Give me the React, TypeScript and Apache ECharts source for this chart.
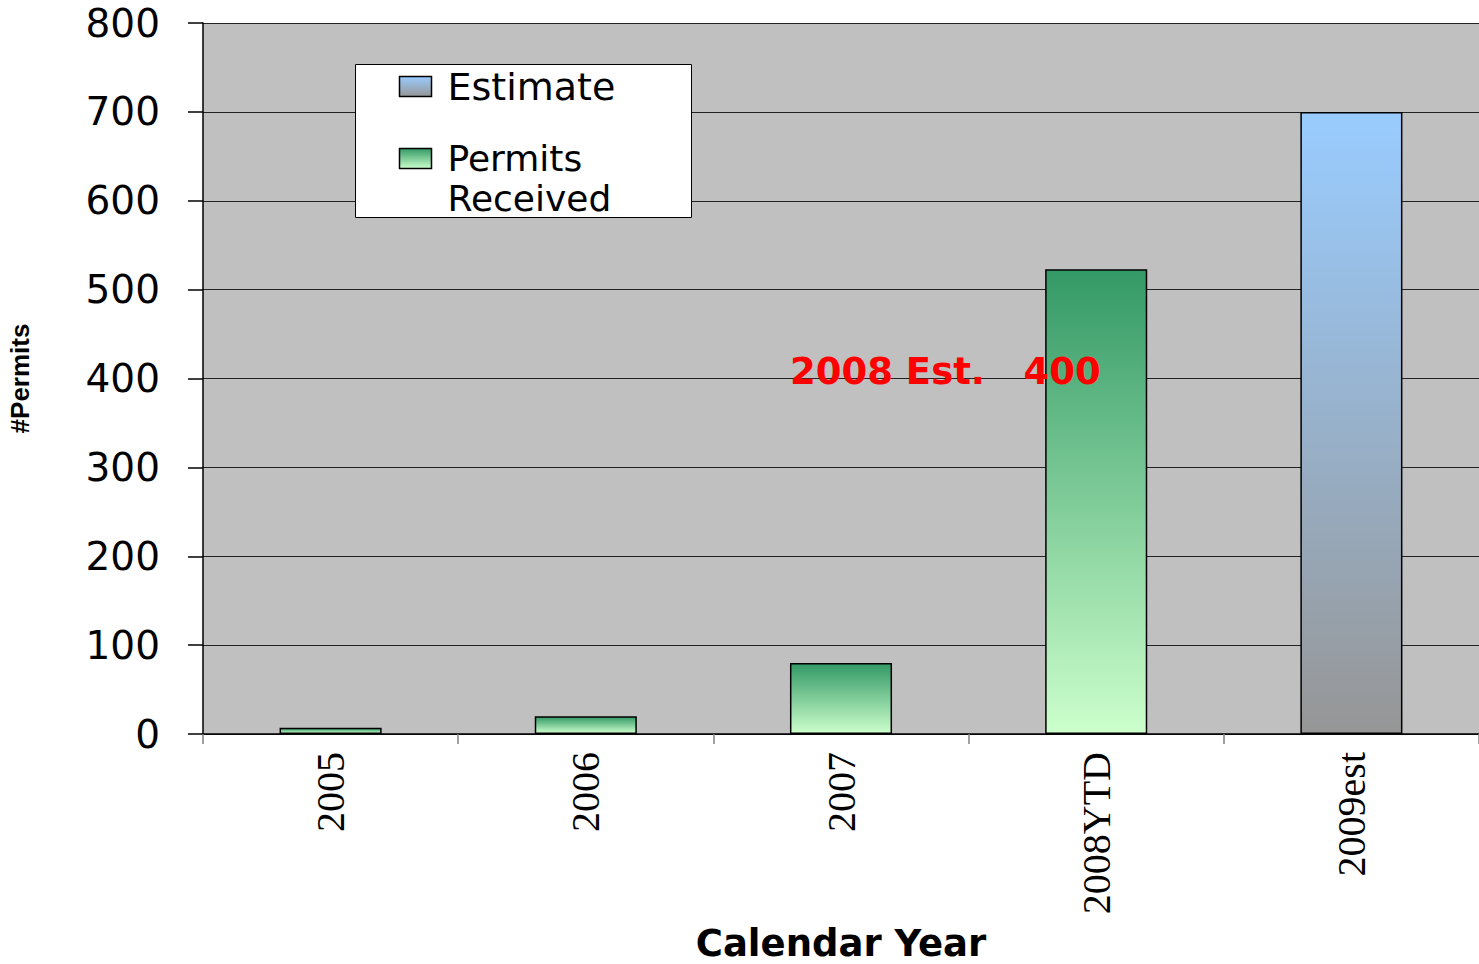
import React, { useEffect, useRef } from "react";
import * as echarts from "echarts";

const categories = ["2005", "2006", "2007", "2008 YTD", "2009est"];
const permitsReceived: (number | string)[] = [7, 20, 80, 523, "-"];
const estimate: (number | string)[] = ["-", "-", "-", "-", 700];
const yTicks = { min: 0, max: 800, interval: 100 };
const annotation = "2008 Est.   400";

export default function App() {
  const ref = useRef<HTMLDivElement>(null);
  useEffect(() => {
    if (!ref.current) return;
    const chart = echarts.init(ref.current, undefined, { renderer: "svg" });
    const green = new echarts.graphic.LinearGradient(0, 0, 0, 1, [
      { offset: 0, color: "#339966" },
      { offset: 1, color: "#CCFFCC" },
    ]);
    const blue = new echarts.graphic.LinearGradient(0, 0, 0, 1, [
      { offset: 0, color: "#99CCFF" },
      { offset: 1, color: "#969696" },
    ]);
    chart.setOption({
      animation: false,
      backgroundColor: "#ffffff",
      grid: {
        left: 203,
        top: 23,
        right: 0,
        bottom: 964 - 734,
        containLabel: false,
        outerBoundsMode: "none",
        show: true,
        backgroundColor: "#c0c0c0",
        borderWidth: 0,
      },
      xAxis: {
        type: "category",
        data: categories,
        axisLine: { show: true, lineStyle: { color: "#000", width: 1.5 } },
        axisTick: { show: true, alignWithLabel: false, length: 10, lineStyle: { color: "#808080", width: 1.5 } },
        axisLabel: {
          rotate: 90,
          margin: 18,
          color: "#000",
          fontFamily: "Liberation Serif",
          fontSize: 40,
          formatter: (v: string) => v.replace(" ", ""),
        },
        name: "Calendar Year",
        nameLocation: "middle",
        nameGap: 190,
        nameTextStyle: { fontFamily: "DejaVu Sans", fontWeight: "bold", fontSize: 37, lineHeight: 38, color: "#000" },
      },
      yAxis: {
        type: "value",
        min: yTicks.min,
        max: yTicks.max,
        interval: yTicks.interval,
        axisLine: { show: true, lineStyle: { color: "#000", width: 1.5 } },
        axisTick: { show: true, length: 15, lineStyle: { color: "#000", width: 1.5 } },
        splitLine: { show: true, lineStyle: { color: "#222", width: 1 } },
        axisLabel: { margin: 43, color: "#000", fontFamily: "DejaVu Sans", fontSize: 39 },
        name: "#Permits",
        nameLocation: "middle",
        nameGap: 170,
        nameRotate: 90,
        nameTextStyle: { fontFamily: "Liberation Sans", fontWeight: "bold", fontSize: 26, color: "#000" },
      },
      series: [
        {
          name: "Estimate",
          type: "bar",
          stack: "all",
          barWidth: "40%",
          data: estimate,
          itemStyle: { color: blue, borderColor: "#000", borderWidth: 1.5 },
        },
        {
          name: "Permits Received",
          type: "bar",
          stack: "all",
          barWidth: "40%",
          data: permitsReceived,
          itemStyle: { color: green, borderColor: "#000", borderWidth: 1.5 },
        },
      ],
      graphic: [
        {
          type: "group",
          left: 355,
          top: 64,
          z: 100,
          children: [
            { type: "rect", z: 100, shape: { x: 0, y: 0, width: 336, height: 153 }, style: { fill: "#fff", stroke: "#000", lineWidth: 1 } },
            {
              type: "rect",
              z: 101,
              shape: { x: 44, y: 12, width: 32, height: 20 },
              style: {
                fill: new echarts.graphic.LinearGradient(0, 0, 0, 1, [
                  { offset: 0, color: "#99CCFF" },
                  { offset: 1, color: "#969696" },
                ]),
                stroke: "#000",
                lineWidth: 1.5,
              },
            },
            {
              type: "text",
              z: 101,
              x: 92,
              y: 22,
              style: { text: "Estimate", fontFamily: "DejaVu Sans", fontSize: 38, fill: "#000", verticalAlign: "middle" },
            },
            {
              type: "rect",
              z: 101,
              shape: { x: 44, y: 84, width: 32, height: 20 },
              style: {
                fill: new echarts.graphic.LinearGradient(0, 0, 0, 1, [
                  { offset: 0, color: "#339966" },
                  { offset: 1, color: "#CCFFCC" },
                ]),
                stroke: "#000",
                lineWidth: 1.5,
              },
            },
            {
              type: "text",
              z: 101,
              x: 92,
              y: 94,
              style: { text: "Permits", fontFamily: "DejaVu Sans", fontSize: 36, fill: "#000", verticalAlign: "middle" },
            },
            {
              type: "text",
              z: 101,
              x: 92,
              y: 134,
              style: { text: "Received", fontFamily: "DejaVu Sans", fontSize: 36, fill: "#000", verticalAlign: "middle" },
            },
          ],
        },
        {
          type: "text",
          left: 790,
          top: 353,
          z: 100,
          style: { text: annotation, fontFamily: "DejaVu Sans", fontWeight: "bold", fontSize: 37, fill: "#ff0000" },
        },
      ],
    });
    return () => chart.dispose();
  }, []);
  return (
    <div
      ref={ref}
      style={{ position: "absolute", left: 0, top: 0, width: 1479, height: 964, background: "#fff" }}
    />
  );
}
